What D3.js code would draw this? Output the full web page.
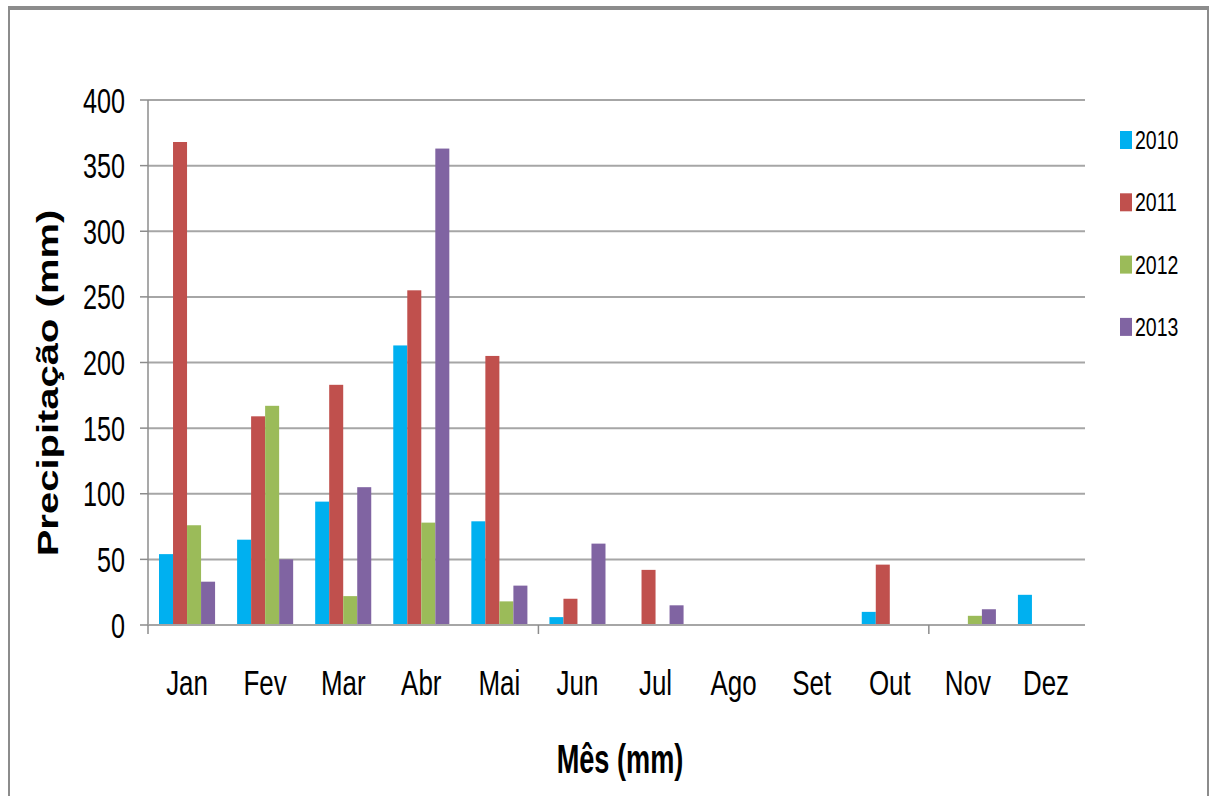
<!DOCTYPE html>
<html>
<head>
<meta charset="utf-8">
<script src="https://cdn.jsdelivr.net/npm/d3@7"></script>
<style>
  html, body { margin: 0; padding: 0; background: #fff; }
  svg { display: block; }
  text { font-family: "Liberation Sans", Arial, sans-serif; fill: #000; }
</style>
</head>
<body>
<svg id="chart" width="1212" height="796"></svg>
<script>
const months = ["Jan","Fev","Mar","Abr","Mai","Jun","Jul","Ago","Set","Out","Nov","Dez"];
const seriesNames = ["2010","2011","2012","2013"];
const colors = ["#00B0F0","#C0504D","#9BBB59","#8064A2"];
const v2010 = [54, 65, 94, 213, 79, 6, 0, 0, 0, 10, 0, 23];
const v2011 = [368, 159, 183, 255, 205, 20, 42, 0, 0, 46, 0, 0];
const v2012 = [76, 167, 22, 78, 18, 0, 0, 0, 0, 0, 7, 0];
const v2013 = [33, 50, 105, 363, 30, 62, 15, 0, 0, 0, 12, 0];
const yTicks = [0, 50, 100, 150, 200, 250, 300, 350, 400];
const yTitle = "Precipitação (mm)";
const xTitle = "Mês (mm)";

(function () {
const values = [v2010, v2011, v2012, v2013];
const data = months.map((m, i) => ({ month: m, vals: seriesNames.map((s, j) => ({ key: s, value: values[j][i], color: colors[j] })) }));

const svg = d3.select("#chart");
const SX = 0.72;

// outer frame
svg.append("rect").attr("x", 9).attr("y", 8).attr("width", 1199).attr("height", 800)
  .attr("fill", "#fff").attr("stroke", "#8c8c8c").attr("stroke-width", 2);
svg.append("line").attr("x1", 8).attr("x2", 1209).attr("y1", 8).attr("y2", 8)
  .attr("stroke", "#8c8c8c").attr("stroke-width", 4);

const pL = 148, pR = 1085, pT = 100, pB = 625;
const x0 = d3.scaleBand().domain(months).range([pL, pR]).paddingInner(0).paddingOuter(0);
const bw = x0.bandwidth();
const x1 = d3.scaleBand().domain(seriesNames).range([bw * 0.141, bw * 0.859]).padding(0);
const y = d3.scaleLinear().domain([0, 400]).range([pB, pT]);

// gridlines
svg.append("g").selectAll("line").data(yTicks.filter(t => t > 0)).join("line")
  .attr("x1", pL).attr("x2", pR)
  .attr("y1", d => y(d)).attr("y2", d => y(d))
  .attr("stroke", "#a6a6a6").attr("stroke-width", 2);

// bars
const groups = svg.append("g").selectAll("g").data(data).join("g")
  .attr("transform", d => `translate(${x0(d.month)},0)`);
groups.selectAll("rect").data(d => d.vals.filter(v => v.value > 0)).join("rect")
  .attr("x", d => x1(d.key))
  .attr("width", x1.bandwidth())
  .attr("y", d => y(d.value))
  .attr("height", d => y(0) - y(d.value))
  .attr("fill", d => d.color);

// y axis line & ticks
svg.append("line").attr("x1", pL).attr("x2", pL).attr("y1", pT).attr("y2", pB)
  .attr("stroke", "#8c8c8c").attr("stroke-width", 1.5);
svg.append("g").selectAll("line").data(yTicks).join("line")
  .attr("x1", pL - 8).attr("x2", pL)
  .attr("y1", d => y(d)).attr("y2", d => y(d))
  .attr("stroke", "#8c8c8c").attr("stroke-width", 1.5);
// x axis line
svg.append("line").attr("x1", pL).attr("x2", pR).attr("y1", pB).attr("y2", pB)
  .attr("stroke", "#a6a6a6").attr("stroke-width", 2);
// x tick marks every 5 categories
const tickIdx = [0, 5, 10];
svg.append("g").selectAll("line").data(tickIdx).join("line")
  .attr("x1", d => x0(months[d])).attr("x2", d => x0(months[d]))
  .attr("y1", pB).attr("y2", pB + 9)
  .attr("stroke", "#8c8c8c").attr("stroke-width", 1.5);

// y tick labels
svg.append("g").selectAll("text").data(yTicks).join("text")
  .attr("transform", d => `translate(125,${y(d)}) scale(${SX},1)`)
  .attr("text-anchor", "end").attr("dy", "0.36em")
  .style("font-size", "35px")
  .text(d => d);

// x labels
svg.append("g").selectAll("text").data(months).join("text")
  .attr("transform", d => `translate(${x0(d) + bw / 2},695) scale(${SX},1)`)
  .attr("text-anchor", "middle")
  .style("font-size", "36px")
  .text(d => d);

// axis titles
svg.append("text")
  .attr("transform", `translate(620,773) scale(${SX * 0.92},1)`)
  .attr("text-anchor", "middle")
  .style("font-size", "41px").style("font-weight", "bold")
  .text(xTitle);
svg.append("text")
  .attr("transform", `translate(58,383) scale(${SX},1) rotate(-90)`)
  .attr("text-anchor", "middle")
  .style("font-size", "40px").style("font-weight", "bold")
  .text(yTitle);

// legend
const lg = svg.append("g").selectAll("g").data(seriesNames).join("g")
  .attr("transform", (d, i) => `translate(1120,${140 + i * 62.3})`);
lg.append("rect").attr("x", 0).attr("y", -9).attr("width", 12).attr("height", 18)
  .attr("fill", (d, i) => colors[i]);
lg.append("text")
  .attr("transform", `translate(15,0) scale(0.78,1)`)
  .attr("dy", "0.36em")
  .style("font-size", "25px")
  .text(d => d);
})();
</script>
</body>
</html>
